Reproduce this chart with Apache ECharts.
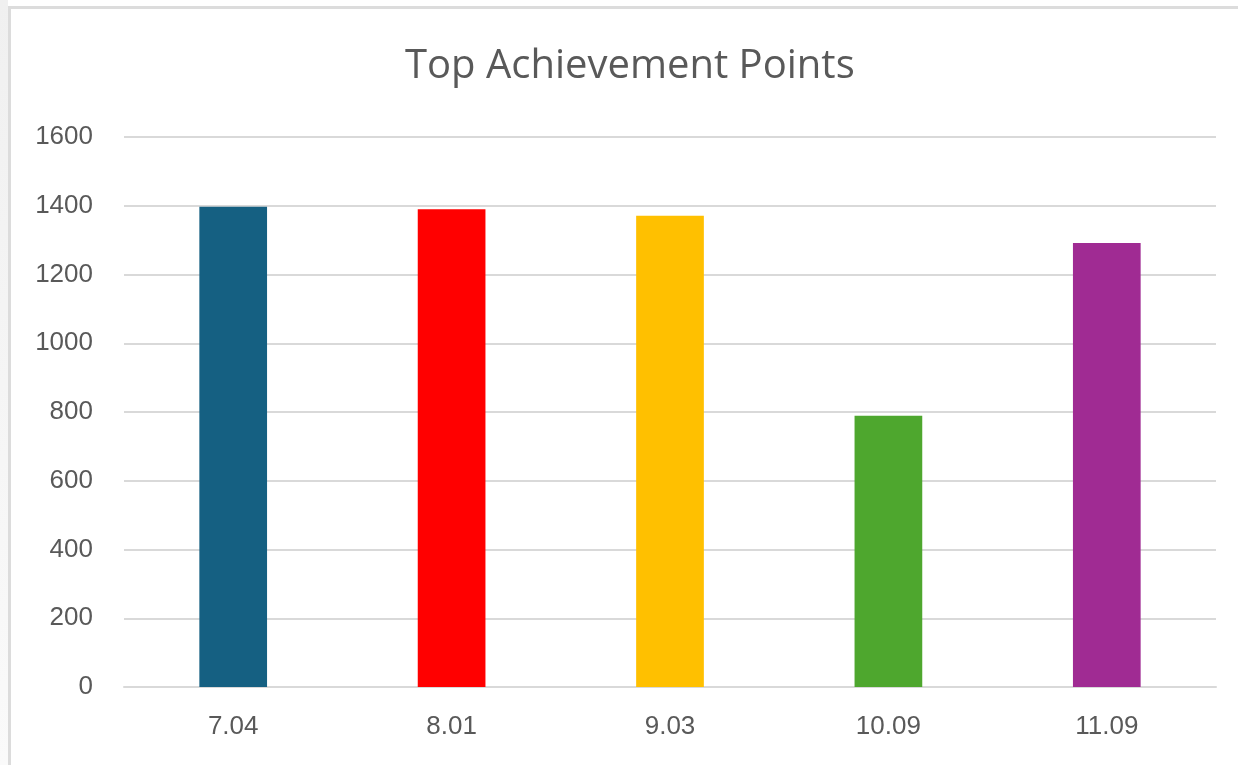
<!DOCTYPE html>
<html>
<head>
<meta charset="utf-8">
<script src="https://cdn.jsdelivr.net/npm/echarts@6/dist/echarts.min.js"></script>
<style>
html,body{margin:0;padding:0;background:#fff;}
#side{position:absolute;left:0;top:0;width:8px;height:765px;background:linear-gradient(to bottom,#f0f0f0,#fafafa);}
#frame{position:absolute;left:8px;top:6px;width:1240px;height:770px;border-left:3px solid #dcdcdc;border-top:3px solid #dcdcdc;box-sizing:border-box;}
#main{position:absolute;left:0;top:0;width:1238px;height:765px;}
</style>
</head>
<body>
<div id="side"></div>
<div id="frame"></div>
<div id="main"></div>
<script>
const categories = ['7.04', '8.01', '9.03', '10.09', '11.09'];
const values = [1397, 1390, 1371, 789, 1292];
const colors = ['#156082', '#FF0000', '#FFC000', '#4EA72E', '#A02B93'];
const titleText = 'Top Achievement Points';

const chart = echarts.init(document.getElementById('main'));
chart.setOption({
  backgroundColor: 'transparent',
  animation: false,
  title: {
    text: titleText,
    left: 400,
    top: 42,
    textStyle: {color: '#595959', fontSize: 40, fontWeight: 'normal', fontFamily: 'Open Sans'}
  },
  grid: {left: 124, right: 22, top: 137, bottom: 78},
  xAxis: {
    type: 'category',
    data: categories,
    axisLine: {lineStyle: {color: '#d9d9d9', width: 2}},
    axisTick: {show: false},
    axisLabel: {color: '#595959', fontSize: 26, margin: 27, fontFamily: 'Liberation Sans'}
  },
  yAxis: {
    type: 'value',
    min: 0, max: 1600, interval: 200,
    axisLine: {show: false},
    axisTick: {show: false},
    splitLine: {lineStyle: {color: '#d9d9d9', width: 2}},
    axisLabel: {color: '#595959', fontSize: 26, margin: 31, fontFamily: 'Liberation Sans',
      formatter: v => String(v)}
  },
  series: [{
    type: 'bar',
    barWidth: '31%',
    data: values.map((v, i) => ({value: v, itemStyle: {color: colors[i]}}))
  }]
});
</script>
</body>
</html>
